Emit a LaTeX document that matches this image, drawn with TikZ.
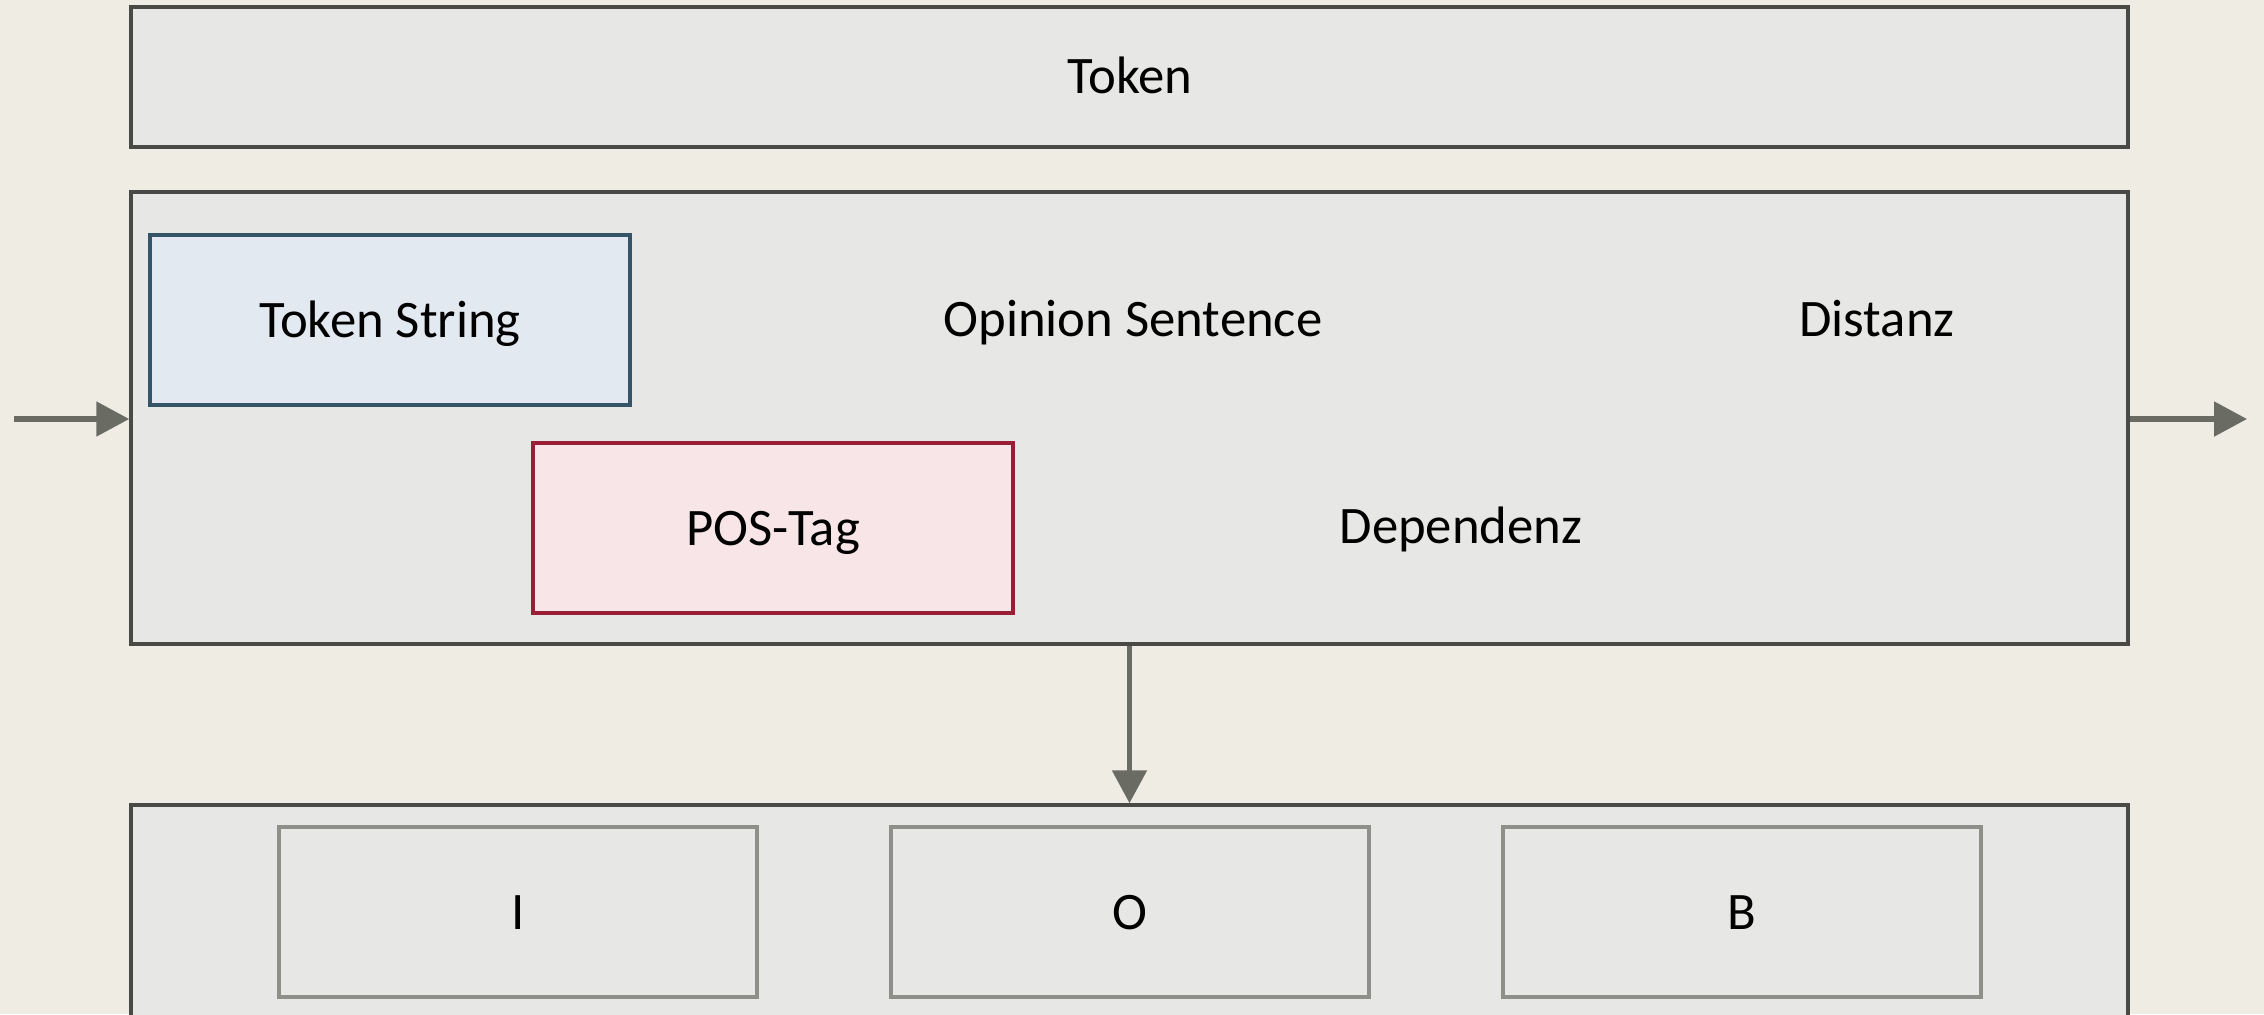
\documentclass[tikz,border=0pt]{standalone}
\usepackage{fontspec}
\setmainfont{Carlito}
\usetikzlibrary{arrows.meta}

\definecolor{pagebg}{HTML}{EFECE4}
\definecolor{panelfill}{HTML}{E7E7E5}
\definecolor{paneldraw}{HTML}{494946}
\definecolor{bluefill}{HTML}{E3E9F0}
\definecolor{bluedraw}{HTML}{355468}
\definecolor{redfill}{HTML}{F7E5E8}
\definecolor{reddraw}{HTML}{9A1F36}
\definecolor{graydraw}{HTML}{8E8F88}
\definecolor{flowcol}{HTML}{6A6B63}

\tikzset{
  panel/.style={draw=paneldraw, fill=panelfill, line width=1.0pt,
    rectangle, inner sep=0pt, minimum width=199.7mm},
  featbox/.style={rectangle, inner sep=0pt, line width=1.1pt,
    minimum width=48mm, minimum height=17mm,
    text height=3.4mm, text depth=0mm, font=\fontsize{15}{18}\selectfont},
  bluebox/.style={featbox, draw=bluedraw, fill=bluefill},
  redbox/.style={featbox, draw=reddraw, fill=redfill},
  tagbox/.style={featbox, draw=graydraw, fill=panelfill, minimum width=47.8mm},
  lbl/.style={inner sep=0pt, anchor=base, font=\fontsize{15}{18}\selectfont},
  flow/.style={draw=flowcol, line width=1.5pt,
    -{Triangle[length=3.3mm,width=3.4mm]}, color=flowcol}
}

\begin{document}
\begin{tikzpicture}[x=0.1mm, y=-0.1mm]
  \useasboundingbox (0,0) rectangle (2264,1014);
  \clip (0,0) rectangle (2264,1014);
  \fill[pagebg] (0,0) rectangle (2264,1014);

  % three stacked panels
  \node[panel, minimum height=14mm] (token) at (1129.5,77) {};
  \node[panel, minimum height=45.2mm] (feat) at (1129.5,418) {};
  \node[panel, minimum height=23mm] (tags) at (1129.5,920) {};

  \node[lbl] (tokenlbl) at (1130,93) {Token};

  % feature boxes and labels
  \node[bluebox] (tstring) at (390,320) {Token String};
  \node[redbox] (pos) at (773,528) {POS-Tag};
  \node[lbl] (opinion) at (1133,336) {Opinion Sentence};
  \node[lbl] (distanz) at (1877,336) {Distanz};
  \node[lbl] (dep) at (1461,543) {Dependenz};

  % IOB tag boxes
  \node[tagbox] (tagI) at (518,912) {I};
  \node[tagbox] (tagO) at (1130,912) {O};
  \node[tagbox] (tagB) at (1742,912) {B};

  % data flow
  \coordinate (inpt) at (14,419);
  \coordinate (outpt) at (2247,419);
  \draw[flow] (inpt) -- (inpt -| feat.west);
  \draw[flow] (outpt -| feat.east) -- (outpt);
  \draw[flow] (feat.south) -- (tags.north);
\end{tikzpicture}
\end{document}
